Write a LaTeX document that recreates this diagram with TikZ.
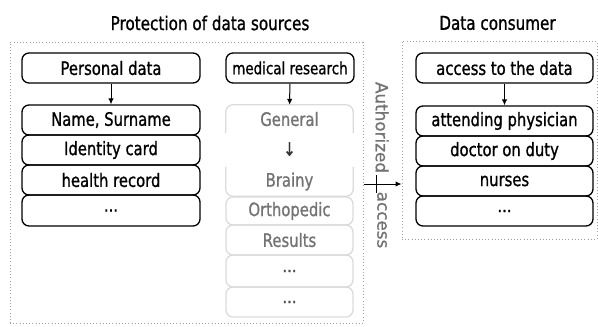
\documentclass[tikz,border=0pt]{standalone}
\usepackage{fontspec}
\setmainfont{DejaVu Sans}[FakeStretch=0.8, FakeBold=1]
\newfontfamily\rotfont{DejaVu Sans}[FakeBold=1]
\usetikzlibrary{arrows.meta}
\begin{document}
\begin{tikzpicture}[x=1pt,y=-1pt,
  txt/.style={font=\fontsize{18.5}{21}\selectfont, inner sep=0pt},
  frame/.style={draw=gray!75, line width=1pt, dash pattern=on 1pt off 2.2pt, inner sep=0pt},
  bbox/.style={txt, draw, line width=1.3pt, rounded corners=7pt, minimum height=30pt},
  lbox/.style={bbox, minimum width=178pt},
  rbox/.style={bbox, minimum width=177pt},
  gcell/.style={txt, minimum width=127pt, text=black!55},
  gbox/.style={gcell, draw=gray!28, line width=1.3pt, rounded corners=7pt, minimum height=30pt},
  gline/.style={draw=gray!28, line width=1.3pt, rounded corners=7pt},
  arr/.style={line width=1pt, -{Latex[length=6pt,width=5.5pt]}},
  ttl/.style={font=\fontsize{19}{22}\selectfont, inner sep=0pt},
  rot/.style={font=\rotfont\fontsize{16.8}{20}\selectfont, inner sep=0pt, text=black!55, rotate=-90}
]
\useasboundingbox (0,0) rectangle (598,327);

% frames
\node[frame, minimum width=353pt, minimum height=281pt] (lframe) at (186.5,182.5) {};
\node[frame, minimum width=195pt, minimum height=198pt] (rframe) at (499.5,140) {};

% titles
\node[ttl] (t1) at (210,23) {Protection of data sources};
\node[ttl] (t2) at (497.5,23) {Data consumer};

% left column
\node[lbox] (pd) at (111,68) {Personal data};
\node[lbox] (nm) at (111,120) {Name, Surname};
\node[lbox] (ic) at (111,150) {Identity card};
\node[lbox] (hr) at (111,180) {health record};
\node[lbox, minimum height=31pt] (ld) at (111,210.5) {...};
\draw[arr] (pd) -- (nm);

% middle column
\node[bbox, minimum width=128pt, font=\fontsize{16.8}{20}\selectfont] (mr) at (290,68) {medical research};
\node[gcell, minimum height=28pt] (gen) at (289.5,119) {General};
\draw[gline] (gen.south west) -- (gen.north west) -- (gen.north east) -- (gen.south east);
\node[txt, text=black!80] (dn) at (289.5,149) {↓};
\node[gcell, minimum height=29pt] (brn) at (289.5,181.5) {Brainy};
\draw[gline] (brn.north west) -- (brn.south west) -- (brn.south east) -- (brn.north east);
\node[gbox, minimum height=28pt] (orth) at (289.5,211) {Orthopedic};
\node[gbox] (res) at (289.5,240) {Results};
\node[gbox, minimum height=32pt, text=black!70] (g1) at (289.5,271) {...};
\node[gbox, text=black!70] (g2) at (289.5,302) {...};
\draw[arr] (mr) -- (gen);

% authorized access
\node[rot] (auth) at (382,127.5) {Authorized};
\node[rot] (acc) at (382,220) {access};
\coordinate (tick) at (376.5,184);
\draw[line width=1pt] ([yshift=9pt]tick) -- ([yshift=-9pt]tick);
\draw[arr] (lframe.east |- tick) -- (rframe.west |- tick);

% right column
\node[rbox] (ad) at (504.5,68) {access to the data};
\node[rbox] (ap) at (504.5,121) {attending physician};
\node[rbox] (dd) at (504.5,151) {doctor on duty};
\node[rbox] (ns) at (504.5,181) {nurses};
\node[rbox] (rd) at (504.5,211) {...};
\draw[arr] (ad) -- (ap);
\end{tikzpicture}
\end{document}
